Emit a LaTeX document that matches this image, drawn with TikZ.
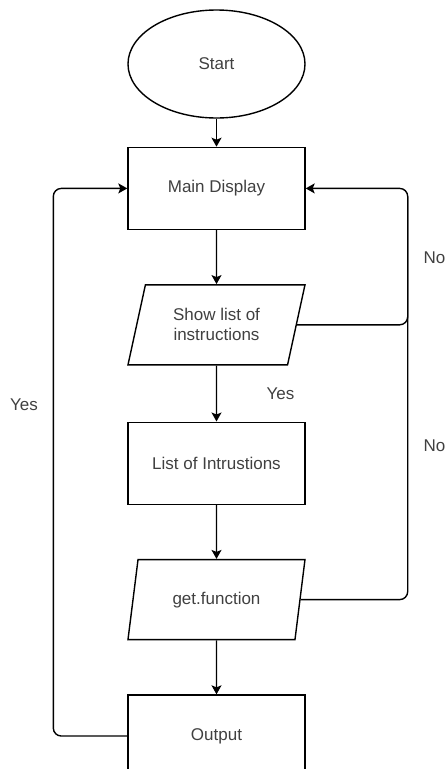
\documentclass[tikz,border=0pt]{standalone}
\usepackage{fontspec}
\setmainfont{Liberation Sans}
\usetikzlibrary{positioning,shapes.geometric,arrows.meta}

\begin{document}
\begin{tikzpicture}[x=1pt,y=1pt,line width=1.4pt,node distance=54pt,
  every node/.style={font=\fontsize{17}{20}\selectfont,text=black!75},
  startstop/.style={ellipse,draw,minimum width=177pt,minimum height=108pt},
  process/.style={rectangle,draw,minimum width=177pt,minimum height=82pt},
  io/.style={trapezium,trapezium left angle=66,trapezium right angle=114,
    trapezium stretches body,draw,minimum width=177pt,minimum height=80pt,align=center},
  flow/.style={-{Stealth[length=9pt,width=10pt,inset=2pt]},rounded corners=8pt}]
\useasboundingbox (0,0) rectangle (447,-769);

\node[startstop] (start) at (216.5,-64) {Start};
\node[process, below=28pt of start] (main) {Main Display};
\node[io, below=of main] (show) {Show list of\\instructions};
\node[process, below=56pt of show] (list) {List of Intrustions};
\node[io, below=of list] (get) {get.function};
\node[process, below=of get] (output) {Output};

% Main flow down the middle.
\draw[flow] (start) -- (main);
\draw[flow] (main) -- (show);
\draw[flow] (show) -- node[right=46pt] (yesMid) {Yes} (list);
\draw[flow] (list) -- (get);
\draw[flow] (get) -- (output);

% Loops back to the main display.
\draw[flow] (output.west) -- ++(-74,0) |- (main.west);
\coordinate (rtop) at ([xshift=102pt]main.east);
\draw[flow] (show.east) -| (rtop) -- (main.east);
\draw[rounded corners=8pt] (get.east) -| ([yshift=-8pt]rtop);

\node (yesLeft) at (24,-405) {Yes};
\node[anchor=east,inner sep=0pt] (noTop) at (446,-258) {No};
\node[anchor=east,inner sep=0pt] (noBot) at (446,-446) {No};

\end{tikzpicture}
\end{document}
